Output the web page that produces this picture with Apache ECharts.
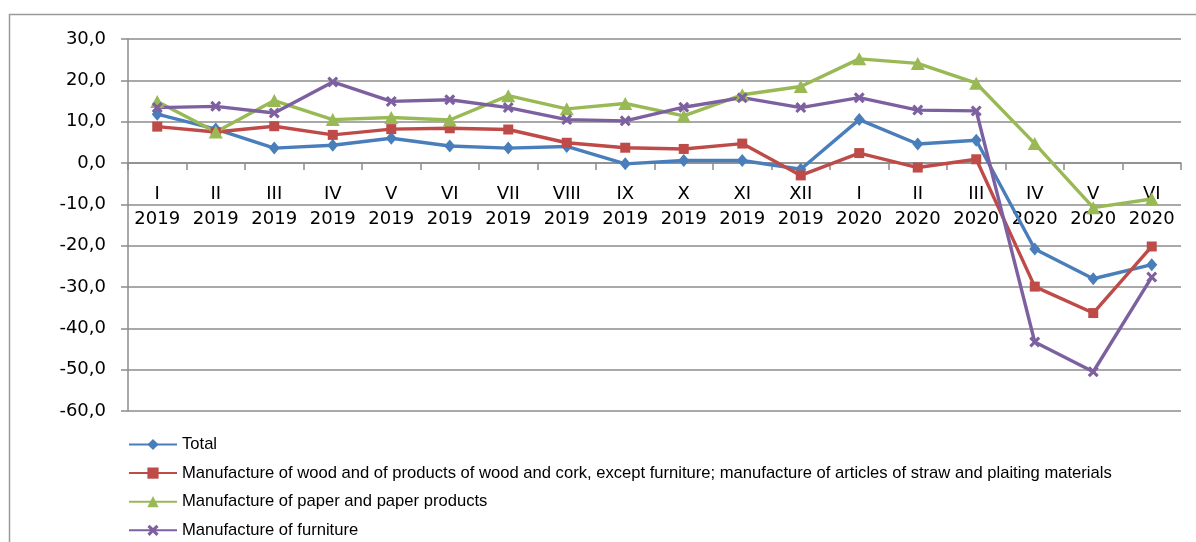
<!DOCTYPE html>
<html>
<head>
<meta charset="utf-8">
<script src="https://cdn.jsdelivr.net/npm/echarts@6/dist/echarts.min.js"></script>
<style>
html,body{margin:0;padding:0;background:#fff;}
#chart{width:1196px;height:542px;}
</style>
</head>
<body>
<div id="chart"></div>
<script>
var months = ['I','II','III','IV','V','VI','VII','VIII','IX','X','XI','XII','I','II','III','IV','V','VI'];
var years = ['2019','2019','2019','2019','2019','2019','2019','2019','2019','2019','2019','2019','2020','2020','2020','2020','2020','2020'];
var seriesNames = [
  'Total',
  'Manufacture of wood and of products of wood and cork, except furniture; manufacture of articles of straw and plaiting materials',
  'Manufacture of paper and paper products',
  'Manufacture of furniture'
];
var total = [11.8, 8.2, 3.6, 4.3, 6.0, 4.1, 3.6, 4.0, -0.2, 0.6, 0.6, -1.5, 10.5, 4.6, 5.5, -20.8, -28.0, -24.6];
var wood = [8.8, 7.5, 8.9, 6.8, 8.2, 8.4, 8.1, 4.9, 3.7, 3.4, 4.7, -3.0, 2.4, -1.1, 0.9, -29.9, -36.3, -20.2];
var paper = [14.9, 7.5, 15.1, 10.5, 11.0, 10.4, 16.3, 13.1, 14.4, 11.4, 16.5, 18.5, 25.2, 24.1, 19.3, 4.7, -10.8, -8.7];
var furniture = [13.4, 13.7, 12.1, 19.6, 14.9, 15.3, 13.4, 10.5, 10.2, 13.5, 15.8, 13.4, 15.8, 12.8, 12.6, -43.3, -50.5, -27.6];

var categories = months.map(function(m, i){ return m + '\n' + years[i]; });
var colors = ['#4A7EBB', '#BE4B48', '#98B954', '#7D60A0'];
var xPath = 'path://M0,2 L2,0 L5,3 L8,0 L10,2 L7,5 L10,8 L8,10 L5,7 L2,10 L0,8 L3,5 Z';

function mk(name, data, color, symbol, size) {
  return {
    name: name, type: 'line', data: data,
    symbol: symbol, symbolSize: size, showSymbol: true,
    lineStyle: {color: color, width: 3.4},
    itemStyle: {color: color},
    emphasis: {disabled: true}
  };
}

var chart = echarts.init(document.getElementById('chart'), null, {renderer: 'canvas'});
chart.setOption({
  animation: false,
  backgroundColor: '#fff',
  graphic: [{
    type: 'rect', left: 7, top: 12, silent: true,
    shape: {x: 0, y: 0, width: 1300, height: 700},
    style: {fill: 'none', stroke: '#9a9a9a', lineWidth: 1.5}
  }],
  grid: {left: 128, right: 15, top: 39, bottom: 131, containLabel: false},
  legend: {
    orient: 'vertical', left: 128, top: 436, padding: 0,
    itemWidth: 48, itemHeight: 14, itemGap: 11.6,
    textStyle: {fontFamily: 'Liberation Sans', fontSize: 16.6, color: '#000'},
    data: seriesNames
  },
  xAxis: {
    type: 'category', data: categories, boundaryGap: true,
    position: 'bottom', offset: -248,
    axisLine: {onZero: false, lineStyle: {color: '#8c8c8c', width: 1.5}},
    axisTick: {show: true, length: 7, inside: false, lineStyle: {color: '#8c8c8c', width: 1.5}},
    axisLabel: {interval: 0, margin: 19, color: '#000', fontFamily: 'DejaVu Sans', fontSize: 18, lineHeight: 25},
    splitLine: {show: false}
  },
  yAxis: {
    type: 'value', min: -60, max: 30, interval: 10,
    axisLine: {show: true, lineStyle: {color: '#8c8c8c', width: 1.5}},
    axisTick: {show: true, length: 7, lineStyle: {color: '#8c8c8c', width: 1.5}},
    axisLabel: {
      margin: 22, color: '#000', fontFamily: 'DejaVu Sans', fontSize: 18,
      formatter: function(v){ return v.toFixed(1).replace('.', ','); }
    },
    splitLine: {show: true, lineStyle: {color: '#8c8c8c', width: 1.5}}
  },
  series: [
    mk(seriesNames[0], total, colors[0], 'diamond', [11, 13]),
    mk(seriesNames[1], wood, colors[1], 'rect', 10),
    mk(seriesNames[2], paper, colors[2], 'triangle', [14, 13]),
    mk(seriesNames[3], furniture, colors[3], xPath, 11)
  ]
});
</script>
</body>
</html>
